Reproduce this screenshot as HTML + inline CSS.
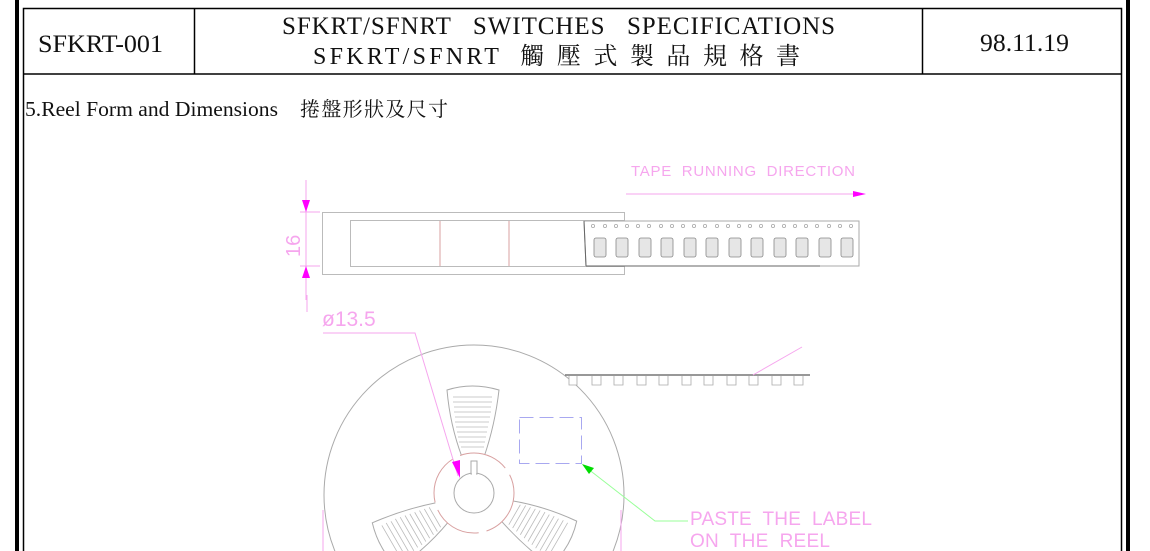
<!DOCTYPE html>
<html><head><meta charset="utf-8"><style>
html,body{margin:0;width:1150px;height:551px;overflow:hidden;background:#fff}
svg{display:block}
.t{font-family:"Liberation Serif","Noto Serif CJK SC",serif;fill:#111}
.p{font-family:"Liberation Sans",sans-serif;fill:#f6a6ee}
</style></head><body>
<svg width="1150" height="551" viewBox="0 0 1150 551">
<!-- frame -->
<rect x="17" y="-2" width="1111" height="560" fill="none" stroke="#000" stroke-width="4"/>
<rect x="23.5" y="8.5" width="1098" height="560" fill="none" stroke="#000" stroke-width="1.5"/>
<line x1="23" y1="74" x2="1122" y2="74" stroke="#000" stroke-width="1.5"/>
<line x1="194.5" y1="8" x2="194.5" y2="74" stroke="#000" stroke-width="1.5"/>
<line x1="922.5" y1="8" x2="922.5" y2="74" stroke="#000" stroke-width="1.5"/>
<text class="t" x="38" y="52" font-size="25" textLength="125" lengthAdjust="spacingAndGlyphs">SFKRT-001</text>
<text class="t" x="282" y="34" font-size="25" textLength="553" xml:space="preserve">SFKRT/SFNRT   SWITCHES   SPECIFICATIONS</text>
<text class="t" x="313" y="64" font-size="24" textLength="487" xml:space="preserve">SFKRT/SFNRT  觸 壓 式 製 品 規 格 書</text>
<text class="t" x="980" y="51" font-size="25" textLength="89" lengthAdjust="spacingAndGlyphs">98.11.19</text>
<text class="t" x="25" y="116" font-size="21" textLength="253" lengthAdjust="spacingAndGlyphs">5.Reel Form and Dimensions</text>
<text class="t" x="300" y="116" font-size="20" textLength="148">捲盤形狀及尺寸</text>

<!-- side view -->
<g fill="none" stroke="#bbb" stroke-width="1">
<rect x="322.5" y="212.5" width="302" height="62"/>
<rect x="350.5" y="220.5" width="274" height="46" fill="#fff"/>
</g>
<line x1="440" y1="221" x2="440" y2="266" stroke="#d8a0a0"/>
<line x1="509" y1="221" x2="509" y2="266" stroke="#d8a0a0"/>
<path d="M584 221 L859 221 L859 266 L586 266 Z" fill="#fff" stroke="#aaa"/>
<line x1="584" y1="221" x2="586" y2="266" stroke="#666"/>
<line x1="586" y1="266" x2="820" y2="266" stroke="#666"/>
<g fill="none" stroke="#aaa" stroke-width="0.8">
<circle cx="593" cy="226" r="1.6"/><circle cx="605" cy="226" r="1.6"/><circle cx="616" cy="226" r="1.6"/><circle cx="627" cy="226" r="1.6"/><circle cx="638" cy="226" r="1.6"/><circle cx="649" cy="226" r="1.6"/><circle cx="661" cy="226" r="1.6"/><circle cx="672" cy="226" r="1.6"/><circle cx="683" cy="226" r="1.6"/><circle cx="694" cy="226" r="1.6"/><circle cx="705" cy="226" r="1.6"/><circle cx="717" cy="226" r="1.6"/><circle cx="728" cy="226" r="1.6"/><circle cx="739" cy="226" r="1.6"/><circle cx="750" cy="226" r="1.6"/><circle cx="761" cy="226" r="1.6"/><circle cx="773" cy="226" r="1.6"/><circle cx="784" cy="226" r="1.6"/><circle cx="795" cy="226" r="1.6"/><circle cx="806" cy="226" r="1.6"/><circle cx="817" cy="226" r="1.6"/><circle cx="829" cy="226" r="1.6"/><circle cx="840" cy="226" r="1.6"/><circle cx="851" cy="226" r="1.6"/>
</g>
<g fill="#e6e6e6" stroke="#888" stroke-width="0.8">
<rect x="594" y="238" width="12" height="19" rx="2"/><rect x="616" y="238" width="12" height="19" rx="2"/><rect x="639" y="238" width="12" height="19" rx="2"/><rect x="661" y="238" width="12" height="19" rx="2"/><rect x="684" y="238" width="12" height="19" rx="2"/><rect x="706" y="238" width="12" height="19" rx="2"/><rect x="729" y="238" width="12" height="19" rx="2"/><rect x="751" y="238" width="12" height="19" rx="2"/><rect x="774" y="238" width="12" height="19" rx="2"/><rect x="796" y="238" width="12" height="19" rx="2"/><rect x="819" y="238" width="12" height="19" rx="2"/><rect x="841" y="238" width="12" height="19" rx="2"/>
</g>
<!-- dim 16 -->
<line x1="306" y1="180" x2="306" y2="300" stroke="#f6a6ee"/>
<line x1="300" y1="212" x2="320" y2="212" stroke="#f6a6ee"/>
<line x1="300" y1="266" x2="320" y2="266" stroke="#f6a6ee"/>
<path d="M302 200 L310 200 L306 212 Z M302 278 L310 278 L306 266 Z" fill="#f0f"/>
<text class="p" x="0" y="0" font-size="20" transform="translate(300,257) rotate(-90)">16</text>
<!-- tape direction -->
<text class="p" x="631" y="176" font-size="15" textLength="224" xml:space="preserve">TAPE  RUNNING  DIRECTION</text>
<line x1="626" y1="194" x2="856" y2="194" stroke="#f6a6ee"/>
<path d="M853 191 L866 194 L853 197 Z" fill="#f0f"/>

<!-- reel -->
<circle cx="474" cy="495" r="150" fill="none" stroke="#aaa"/>
<g fill="none" stroke="#aaa">
<path d="M447 390 Q472 382 499 390 Q495 425 484 457 L462 457 Q450 425 447 390 Z" fill="#fff"/>
<path d="M447 390 Q472 382 499 390 Q495 425 484 457 L462 457 Q450 425 447 390 Z" transform="rotate(120 474 493)" fill="#fff"/>
<path d="M447 390 Q472 382 499 390 Q495 425 484 457 L462 457 Q450 425 447 390 Z" transform="rotate(240 474 493)" fill="#fff"/>
</g>
<g stroke="#bbb" stroke-width="0.8" fill="none">
<path d="M453 397 H492 M453 402 H492 M454 407 H491 M454 412 H491 M455 417 H490 M455 422 H489 M456 427 H488 M457 432 H487 M458 437 H486 M459 442 H485 M461 447 H484"/>
<path d="M453 397 H492 M453 402 H492 M454 407 H491 M454 412 H491 M455 417 H490 M455 422 H489 M456 427 H488 M457 432 H487 M458 437 H486 M459 442 H485 M461 447 H484" transform="rotate(120 474 493)"/>
<path d="M453 397 H492 M453 402 H492 M454 407 H491 M454 412 H491 M455 417 H490 M455 422 H489 M456 427 H488 M457 432 H487 M458 437 H486 M459 442 H485 M461 447 H484" transform="rotate(240 474 493)"/>
</g>
<circle cx="474" cy="493" r="40" fill="#fff" stroke="#d8a0a0" stroke-dasharray="50 8"/>
<circle cx="474" cy="493" r="20" fill="#fff" stroke="#aaa"/>
<rect x="471" y="461" width="6" height="13" fill="#fff" stroke="#aaa"/>
<line x1="474" y1="476" x2="474" y2="473" stroke="#fff" stroke-width="4"/>

<text class="p" x="322" y="326" font-size="21">ø13.5</text>
<polyline points="323,333 415,333 458,476" fill="none" stroke="#f6a6ee"/>
<path d="M452 462 L460 460 L460 478 Z" fill="#f0f"/>
<line x1="307" y1="295" x2="307" y2="312" stroke="#f6a6ee"/>
<line x1="323" y1="510" x2="323" y2="551" stroke="#f6a6ee"/>
<line x1="621" y1="510" x2="621" y2="551" stroke="#f6a6ee"/>

<!-- tape lower -->
<line x1="565" y1="375" x2="810" y2="375" stroke="#777" stroke-width="1.5"/>
<g fill="#fff" stroke="#aaa" stroke-width="0.8">
<path d="M569 376 v9 h8 v-9 M592 376 v9 h9 v-9 M614 376 v9 h9 v-9 M637 376 v9 h9 v-9 M659 376 v9 h9 v-9 M682 376 v9 h9 v-9 M704 376 v9 h9 v-9 M727 376 v9 h9 v-9 M749 376 v9 h9 v-9 M772 376 v9 h9 v-9 M794 376 v9 h9 v-9"/>
</g>
<line x1="753" y1="375" x2="802" y2="347" stroke="#f6a6ee"/>

<!-- label box -->
<rect x="519.5" y="417.5" width="62" height="46" fill="none" stroke="#a8a8f0" stroke-dasharray="14 6"/>
<polyline points="583,465 655,521 688,521" fill="none" stroke="#9f9"/>
<path d="M582 464 L594 468 L589 474 Z" fill="#0d0"/>
<text class="p" x="690" y="525" font-size="19" textLength="182" xml:space="preserve">PASTE  THE  LABEL</text>
<text class="p" x="690" y="547" font-size="19" textLength="140" xml:space="preserve">ON  THE  REEL</text>
</svg>
</body></html>
